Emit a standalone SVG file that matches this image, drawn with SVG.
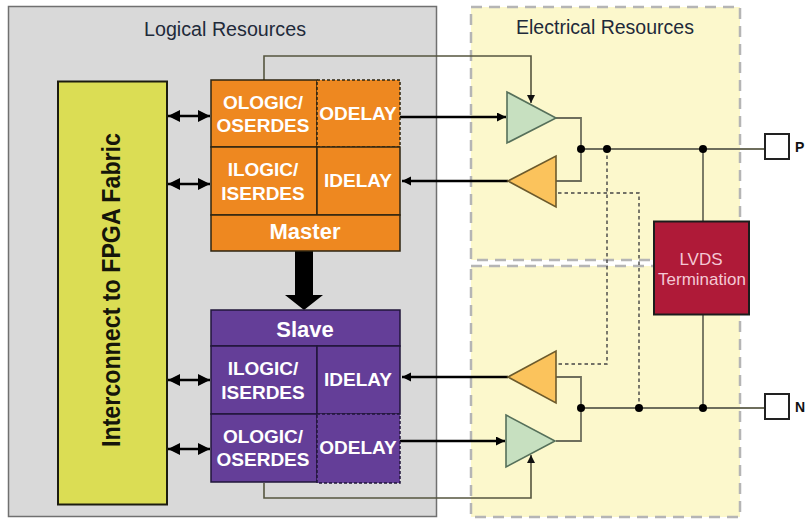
<svg xmlns="http://www.w3.org/2000/svg" width="807" height="519" viewBox="0 0 807 519">
<style>
text{font-family:"Liberation Sans",Arial,sans-serif;text-anchor:middle}
.w{fill:#fff;font-weight:bold;font-size:19px}
.t{font-size:22px}
.panel{fill:#fcf8cc;stroke:#b5b5b5;stroke-width:2.5;stroke-dasharray:11 7}
.o{fill:#ee8820;stroke:#2e2410;stroke-width:1.5}
.p{fill:#643e98;stroke:#20163a;stroke-width:1.5}
.dash{stroke-dasharray:3 2}
.thin{fill:none;stroke:#55553f;stroke-width:1.6}
.gray{fill:none;stroke:#6e6e5c;stroke-width:1.8}
.dot{fill:none;stroke:#444;stroke-width:1.4;stroke-dasharray:3.5 3}
.bus{fill:none;stroke:#000;stroke-width:2.5}
.grn{fill:#c7e0c0;stroke:#56705a;stroke-width:1.6}
.org{fill:#fbc35c;stroke:#6c5a2c;stroke-width:1.6}
.pad{fill:#fff;stroke:#222;stroke-width:2}
.lv{font-size:17px;fill:#f4c8d4}
.pl{font-size:14px;font-weight:bold;fill:#111;text-anchor:start}
</style>
<defs>
<marker id="a" markerUnits="userSpaceOnUse" markerWidth="10" markerHeight="10" refX="9" refY="4.500" orient="auto"><path d="M0 0L9 4.500L0 9z" fill="#000"/></marker>
<marker id="b" markerUnits="userSpaceOnUse" markerWidth="13" markerHeight="13" refX="12" refY="6" orient="auto-start-reverse"><path d="M0 0L12 6L0 12z" fill="#000"/></marker>
<marker id="s" markerUnits="userSpaceOnUse" markerWidth="9" markerHeight="9" refX="8" refY="4" orient="auto"><path d="M0 0L8 4L0 8z" fill="#111"/></marker>
</defs>
<rect width="807" height="519" fill="#fff"/>
<g id="logical-resources"><rect x="8.500" y="6.500" width="428" height="510" fill="#d9d9d9" stroke="#707070" stroke-width="1.500"/><text x="225" y="36" font-size="20" fill="#1f2a3a" textLength="162" lengthAdjust="spacingAndGlyphs">Logical Resources</text></g>
<g id="electrical-top"><rect class="panel" x="471" y="7" width="269" height="253"/><text x="605" y="34" font-size="20" fill="#1f2a3a" textLength="178" lengthAdjust="spacingAndGlyphs">Electrical Resources</text></g>
<g id="electrical-bottom"><rect class="panel" x="471" y="266" width="269" height="251"/></g>
<g id="connectors">
<path class="thin" d="M264 80V56H531V103" marker-end="url(#s)"/>
<path class="thin" d="M264 483V498H531V455" marker-end="url(#s)"/>
<path class="gray" d="M556 118H581V181H556M581 149H764M703 149V221M703 315V407M556 377H581V441H556M581 408H764"/>
<path class="dot" d="M558 193H639V408M607 149V364H556"/>
<path class="bus" d="M400 117H506" marker-end="url(#a)"/>
<path class="bus" d="M508 181H402" marker-end="url(#a)"/>
<path class="bus" d="M508 377H402" marker-end="url(#a)"/>
<path class="bus" d="M400 441H505" marker-end="url(#a)"/>
<path class="bus" d="M168 116H210" marker-start="url(#b)" marker-end="url(#b)"/>
<path class="bus" d="M168 184H210" marker-start="url(#b)" marker-end="url(#b)"/>
<path class="bus" d="M168 380H210" marker-start="url(#b)" marker-end="url(#b)"/>
<path class="bus" d="M168 449H210" marker-start="url(#b)" marker-end="url(#b)"/>
<path d="M295 251H313V295H323L304 310L285 295H295z" fill="#000"/>
<g fill="#000"><circle cx="581" cy="149" r="4"/><circle cx="607" cy="149" r="4"/><circle cx="703" cy="149" r="4"/><circle cx="581" cy="408" r="4"/><circle cx="639" cy="408" r="4"/><circle cx="703" cy="408" r="4"/></g>
</g>
<g id="fabric"><rect x="58" y="81.500" width="109" height="423" fill="#dbdd54" stroke="#1c1c10" stroke-width="2"/><text transform="translate(120 290) rotate(-90)" font-size="25" font-weight="bold" fill="#15150a" textLength="314" lengthAdjust="spacingAndGlyphs">Interconnect to FPGA Fabric</text></g>
<g id="master">
<rect class="o" x="211" y="80" width="106" height="67"/>
<rect class="o dash" x="317" y="80" width="83" height="67"/>
<rect class="o" x="211" y="147" width="106" height="68"/>
<rect class="o" x="317" y="147" width="83" height="68"/>
<rect class="o" x="211" y="215" width="189" height="36"/>
<text class="w" x="263" y="109">OLOGIC/</text><text class="w" x="263" y="132">OSERDES</text>
<text class="w" x="358" y="120">ODELAY</text>
<text class="w" x="263" y="176">ILOGIC/</text><text class="w" x="263" y="200">ISERDES</text>
<text class="w" x="358" y="187">IDELAY</text>
<text class="w t" x="305" y="239">Master</text>
</g>
<g id="slave">
<rect class="p" x="211" y="310" width="189" height="36"/>
<rect class="p" x="211" y="346" width="106" height="68"/>
<rect class="p" x="317" y="346" width="83" height="68"/>
<rect class="p" x="211" y="414" width="106" height="68"/>
<rect class="p dash" x="317" y="414" width="83" height="69"/>
<text class="w t" x="305" y="337">Slave</text>
<text class="w" x="263" y="375">ILOGIC/</text><text class="w" x="263" y="399">ISERDES</text>
<text class="w" x="358" y="386">IDELAY</text>
<text class="w" x="263" y="443">OLOGIC/</text><text class="w" x="263" y="466">OSERDES</text>
<text class="w" x="358" y="454">ODELAY</text>
</g>
<g id="driver-top"><path class="grn" d="M507 92L556 118L507 143z"/></g>
<g id="receiver-top"><path class="org" d="M508 181L556 156V207z"/></g>
<g id="receiver-bottom"><path class="org" d="M508 377L556 351V403z"/></g>
<g id="driver-bottom"><path class="grn" d="M506 415L555 441L506 467z"/></g>
<g id="lvds"><rect x="654" y="221.500" width="95" height="93" fill="#af1a38" stroke="#1c1c1c" stroke-width="2"/><text class="lv" x="701" y="265">LVDS</text><text class="lv" x="702" y="285">Termination</text></g>
<g id="pad-p"><rect class="pad" x="765" y="134" width="24" height="25"/><text class="pl" x="795" y="152">P</text></g>
<g id="pad-n"><rect class="pad" x="765" y="394" width="24" height="25"/><text class="pl" x="795" y="412">N</text></g>
</svg>
